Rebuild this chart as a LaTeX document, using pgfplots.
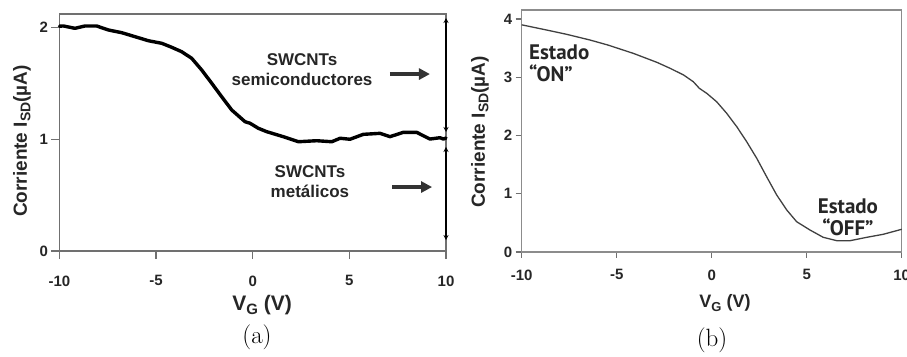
\documentclass[border=0pt]{standalone}
\usepackage{pgfplots}
\pgfplotsset{compat=1.18}
\usetikzlibrary{arrows.meta}
\usepackage{fontspec}
\newfontfamily\arial{Liberation Sans}
\newfontfamily\ptsans{PT Sans}
\definecolor{framegray}{HTML}{707070}
\definecolor{framegrayb}{HTML}{8C8C8C}
\definecolor{curveb}{HTML}{404040}
\definecolor{txt}{HTML}{262626}

\begin{document}
\begin{tikzpicture}[x=1pt,y=1pt]
\path[use as bounding box] (0,0) rectangle (907,356);

% ---------------- panel (a) ----------------
\begin{axis}[
  at={(59.5pt,105pt)}, anchor=south west,
  scale only axis, width=386.5pt, height=237pt,
  xmin=-10, xmax=10, ymin=0, ymax=2.119,
  xtick={-10,-5,0,5,10}, xticklabels={-10,-5,0,5,10},
  ytick={0,1,2}, yticklabels={0,1,2},
  xtick pos=bottom, ytick pos=left, tick align=outside,
  major tick length=8pt,
  axis line style={draw=framegray, line width=1.3pt},
  major tick style={draw=framegray, line width=1.3pt},
  tick label style={font=\arial\bfseries\fontsize{15}{15}\selectfont, text=txt},
  xticklabel style={yshift=-13pt},
  clip=false,
]
\addplot[black, line width=3.4pt, line join=round, line cap=round] coordinates {
(-10.0,2.010) (-9.80,2.012) (-9.20,1.991) (-8.68,2.012) (-8.08,2.012)
(-7.47,1.976) (-6.78,1.952) (-6.09,1.916) (-5.40,1.880) (-4.71,1.857)
(-4.19,1.821) (-3.68,1.782) (-3.16,1.723) (-2.64,1.618) (-2.12,1.499)
(-1.61,1.380) (-1.09,1.261) (-0.40,1.156) (-0.14,1.142) (0.29,1.097)
(0.72,1.067) (1.58,1.022) (2.36,0.977) (3.31,0.986) (4.09,0.977)
(4.52,1.008) (5.03,0.999) (5.72,1.043) (6.58,1.052) (7.10,1.022)
(7.79,1.061) (8.48,1.061) (9.17,1.001) (9.69,1.013) (9.86,1.001) (10.0,1.010)
};
\draw[black, line width=1.5pt, {Stealth[length=5pt,width=5pt]}-{Stealth[length=5pt,width=5pt]}]
  (axis cs:10,2.083) -- (axis cs:10,1.064);
\draw[black, line width=1.5pt, {Stealth[length=5pt,width=5pt]}-{Stealth[length=5pt,width=5pt]}]
  (axis cs:10,0.930) -- (axis cs:10,0.098);
\draw[black!80, line width=4.5pt, -{Triangle[length=11pt,width=11pt]}]
  (axis cs:7.10,1.582) -- (axis cs:9.17,1.582);
\draw[black!80, line width=4.5pt, -{Triangle[length=11pt,width=11pt]}]
  (axis cs:7.21,0.572) -- (axis cs:9.28,0.572);
\node[align=center, text=txt, font=\arial\bfseries\fontsize{17}{20}\selectfont]
  at (axis cs:2.55,1.618) {SWCNTs\\semiconductores};
\node[align=center, text=txt, font=\arial\bfseries\fontsize{17}{20}\selectfont]
  at (axis cs:2.96,0.617) {SWCNTs\\metálicos};
\end{axis}

% ---------------- panel (b) ----------------
\begin{axis}[
  at={(521.7pt,104pt)}, anchor=south west,
  scale only axis, width=380pt, height=242pt,
  xmin=-10, xmax=10, ymin=0, ymax=4.155,
  xtick={-10,-5,0,5,10}, xticklabels={-10,-5,0,5,10},
  ytick={0,1,2,3,4}, yticklabels={0,1,2,3,4},
  xtick pos=bottom, ytick pos=left, tick align=outside,
  major tick length=6pt,
  axis line style={draw=framegrayb, line width=1.2pt},
  major tick style={draw=framegray, line width=1.2pt},
  tick label style={font=\arial\bfseries\fontsize{15}{15}\selectfont, text=txt},
  xticklabel style={yshift=-8pt},
  clip=false,
]
\addplot[curveb, line width=1.3pt, line join=round] coordinates {
(-10.0,3.90) (-9.95,3.897) (-8.51,3.799) (-7.63,3.737) (-6.41,3.640)
(-5.47,3.554) (-4.13,3.411) (-2.89,3.257) (-2.19,3.154) (-1.48,3.039)
(-0.97,2.924) (-0.65,2.810) (-0.26,2.724) (0.26,2.580) (0.79,2.381)
(1.32,2.151) (1.84,1.894) (2.37,1.609) (2.89,1.293) (3.42,0.979)
(3.95,0.721) (4.47,0.520) (5.17,0.378) (5.87,0.252) (6.58,0.194)
(7.28,0.194) (8.16,0.252) (9.03,0.304) (10.0,0.390)
};
\node[align=left, anchor=west, inner sep=0pt, text=txt, font=\ptsans\bfseries\fontsize{21}{22}\selectfont]
  at (axis cs:-9.62,3.236) {Estado\\“ON”};
\node[align=center, inner sep=0pt, text=txt, font=\ptsans\bfseries\fontsize{21}{22}\selectfont]
  at (axis cs:7.17,0.601) {Estado\\“OFF”};
\end{axis}

% ---------------- labels ----------------
\node[rotate=90, text=txt, font=\arial\bfseries\fontsize{19}{19}\selectfont] at (22,215)
  {Corriente I\raisebox{-3.5pt}{\fontsize{14}{14}\selectfont SD}(µA)};
\node[rotate=90, text=txt, font=\arial\bfseries\fontsize{19}{19}\selectfont] at (480,224)
  {Corriente I\raisebox{-3.5pt}{\fontsize{14}{14}\selectfont SD}(µA)};
\node[text=txt, font=\arial\bfseries\fontsize{21}{21}\selectfont] at (262,51)
  {V\raisebox{-4pt}{\fontsize{15}{15}\selectfont G} (V)};
\node[text=txt, font=\arial\bfseries\fontsize{18}{18}\selectfont] at (725,53)
  {V\raisebox{-3.5pt}{\fontsize{13}{13}\selectfont G} (V)};
\node[font=\rmfamily\fontsize{25}{25}\selectfont] at (257,19) {(a)};
\node[font=\rmfamily\fontsize{25}{25}\selectfont] at (712,16) {(b)};
\end{tikzpicture}
\end{document}
